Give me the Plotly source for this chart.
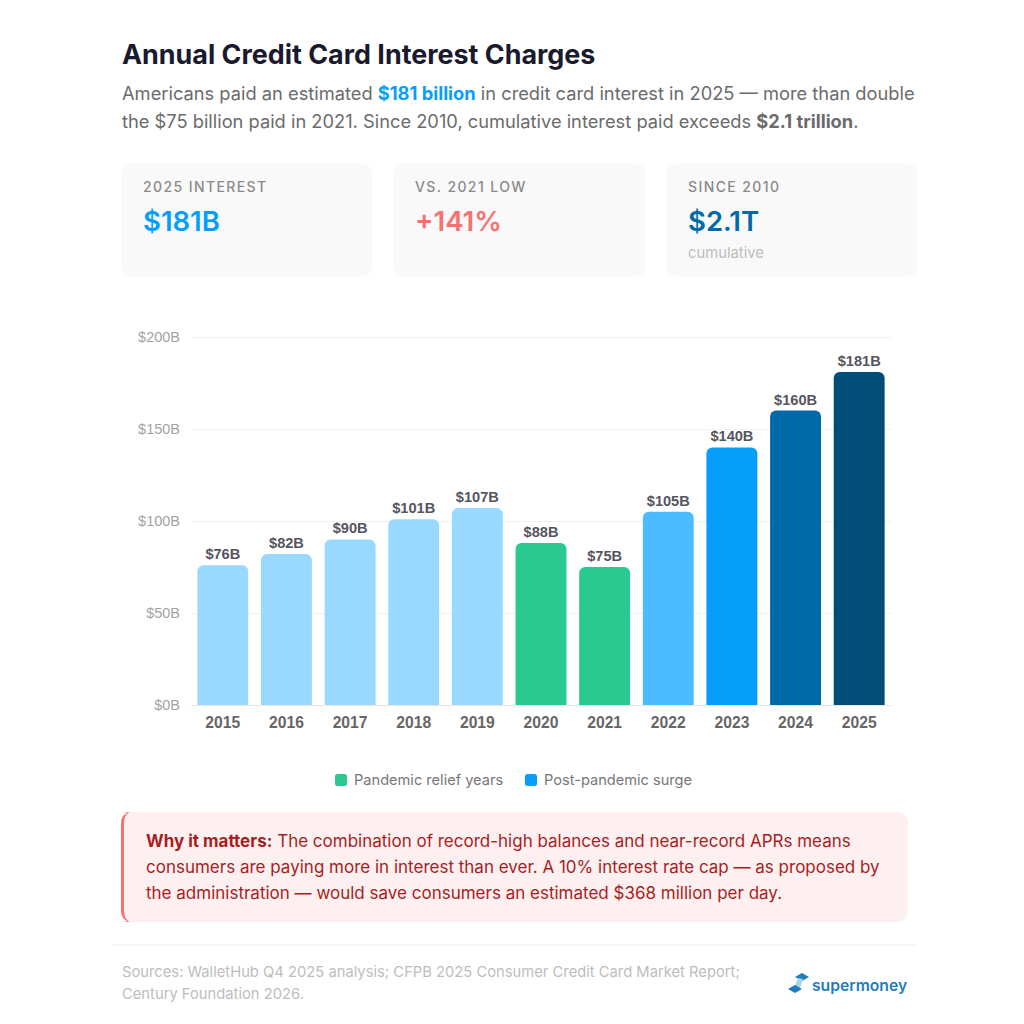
import json

import plotly.graph_objects as go

years = ["2015", "2016", "2017", "2018", "2019", "2020", "2021", "2022", "2023", "2024", "2025"]
interest = [76, 82, 90, 101, 107, 88, 75, 105, 140, 160, 181]
bar_colors = ["#99D9FF", "#99D9FF", "#99D9FF", "#99D9FF", "#99D9FF", "#2AC98F", "#2AC98F",
              "#4DBBFF", "#059FFB", "#0069A8", "#004D78"]
y_ticks = [0, 50, 100, 150, 200]
y_labels = ["$0B", "$50B", "$100B", "$150B", "$200B"]

title = "Annual Credit Card Interest Charges"
subtitle = [
    'Americans paid an estimated <b><span style="color:#059FFB">$181 billion</span></b> in credit card interest in 2025 — more than double',
    "the $75 billion paid in 2021. Since 2010, cumulative interest paid exceeds <b>$2.1 trillion</b>.",
]
card_labels = ["2025 INTEREST", "VS. 2021 LOW", "SINCE 2010"]
card_values = ["$181B", "+141%", "$2.1T"]
card_colors = ["#059FFB", "#F87171", "#0069A8"]
legend_names = ["Pandemic relief years", "Post-pandemic surge"]
legend_colors = ["#2AC98F", "#059FFB"]
callout = [
    "<b>Why it matters:</b> The combination of record-high balances and near-record APRs means",
    "consumers are paying more in interest than ever. A 10% interest rate cap — as proposed by",
    "the administration — would save consumers an estimated $368 million per day.",
]
sources = [
    "Sources: WalletHub Q4 2025 analysis; CFPB 2025 Consumer Credit Card Market Report;",
    "Century Foundation 2026.",
]

SIZE = 1024
FONT = "Inter"
CHART_FONT = "Liberation Sans"


def px(x):
    return x / SIZE


def py(y):
    return 1 - y / SIZE


def text(x, y, s, size, color, weight=400, anchor="left"):
    return dict(
        x=px(x), y=py(y), xref="paper", yref="paper", text=s, showarrow=False,
        xanchor=anchor, yanchor="middle", align="left", borderpad=0,
        font=dict(family=FONT, size=size, color=color, weight=weight),
    )


def rounded(x0, y0, x1, y1, r, fill, rx=None):
    # rounded rectangle as an svg path, in paper fractions
    rx = r if rx is None else rx
    pts = [
        ("M", x0 + rx, y0), ("L", x1 - r, y0), ("Q", x1, y0, x1, y0 + r),
        ("L", x1, y1 - r), ("Q", x1, y1, x1 - r, y1), ("L", x0 + rx, y1),
        ("Q", x0, y1, x0, y1 - r), ("L", x0, y0 + r), ("Q", x0, y0, x0 + rx, y0),
    ]
    path = ""
    for p in pts:
        coords = p[1:]
        pairs = [f"{px(coords[i])},{py(coords[i + 1])}" for i in range(0, len(coords), 2)]
        path += p[0] + " ".join(pairs) + " "
    return dict(type="path", path=path + "Z", xref="paper", yref="paper",
                fillcolor=fill, line=dict(width=0), layer="below")


def poly(points, fill):
    path = "M" + " L".join(f"{px(x)},{py(y)}" for x, y in points) + " Z"
    return dict(type="path", path=path, xref="paper", yref="paper", fillcolor=fill, line=dict(width=0))


fig = go.Figure(
    go.Bar(
        x=years,
        y=interest,
        marker=dict(color=bar_colors, line=dict(width=0), cornerradius=6),
        text=[f"${v}B" for v in interest],
        textposition="outside",
        textfont=dict(family=CHART_FONT, size=14.6, color="#555560", weight=700),
        cliponaxis=False,
        hoverinfo="skip",
    )
)

shapes = []
annotations = [text(121, 54, title, 26.9, "#1A1A2E", 700)]
annotations.append(text(121, 93, subtitle[0], 18.3, "#6B6B6B"))
annotations.append(text(121, 121, subtitle[1], 18.3, "#6B6B6B"))

card_x = [(121, 372), (393, 645), (666, 917)]
for (x0, x1), label, value, color in zip(card_x, card_labels, card_values, card_colors):
    shapes.append(rounded(x0, 163, x1, 277, 12, "#F9F9F9"))
    annotations.append(text(x0 + 21, 186, label, 14, "#8A8A8A", 500))
    annotations.append(text(x0 + 21, 221, value, 27.5, color, 600))
annotations.append(text(687, 253, "cumulative", 14.8, "#BDBDBD"))

# legend
legend_x = [335, 525]
for x, name, color in zip(legend_x, legend_names, legend_colors):
    shapes.append(rounded(x, 774, x + 12, 786, 2.5, color))
    annotations.append(text(x + 18, 780, name, 14.6, "#777777"))

# callout
shapes.append(rounded(121, 812, 134, 922, 12, "#F87171"))
shapes.append(rounded(124, 812, 908, 922, 12, "#FEF0F0", rx=9))
for y, line in zip([841, 867, 893], callout):
    annotations.append(text(145, y, line, 17, "#A61E1E"))

# footer
shapes.append(dict(type="line", xref="paper", yref="paper", x0=px(111), x1=px(917), y0=py(945), y1=py(945),
                   line=dict(color="#EEEEEE", width=1)))
for y, line in zip([972, 994], sources):
    annotations.append(text(121, y, line, 14.75, "#BDBDBD"))

# logo
shapes.append(poly([(795, 977), (802, 973), (809, 977), (802, 981)], "#1F7DB8"))
shapes.append(poly([(794, 988), (798, 978), (803, 979), (800, 988)], "#A9D4EE"))
shapes.append(poly([(788, 989), (795, 985), (802, 989), (795, 993)], "#1F7DB8"))
annotations.append(text(811, 985, "supermoney", 15.7, "#1F7DB8", 600))

fig.update_layout(
    width=SIZE,
    height=SIZE,
    margin=dict(l=0, r=0, t=0, b=0),
    paper_bgcolor="white",
    plot_bgcolor="white",
    showlegend=False,
    bargap=0.2,
    font=dict(family=FONT),
    shapes=shapes,
    annotations=annotations,
    xaxis=dict(
        domain=[px(191), px(891)],
        type="category",
        automargin=False,
        showgrid=False,
        showline=True,
        linecolor="#E6E6E6",
        linewidth=1,
        ticks="",
        ticklabelstandoff=3,
        tickfont=dict(family=CHART_FONT, size=15.7, color="#666666", weight=700),
    ),
    yaxis=dict(
        # plotly drops a gridline within 1px of the axis end, so the axis
        # runs 2px past $200B (1.84px per $1B)
        domain=[py(705), py(335)],
        range=[0, 201.087],
        automargin=False,
        tickvals=y_ticks,
        ticktext=y_labels,
        showgrid=True,
        gridcolor="#F0F0F0",
        gridwidth=1,
        zeroline=False,
        ticks="",
        ticklabelstandoff=10,
        tickfont=dict(family=CHART_FONT, size=14.5, color="#A3A3A3"),
    ),
)

# plotly has no letter-spacing option, so the card labels get it in the page
spacing = """
document.body.style.margin = '0';
var labels = %s;
document.querySelectorAll('.annotation-text').forEach(function (t) {
  if (labels.indexOf(t.textContent) >= 0) { t.style.letterSpacing = '1.4px'; }
});
""" % json.dumps(card_labels)

fig.write_html("out.html", post_script=spacing, config=dict(displayModeBar=False))
